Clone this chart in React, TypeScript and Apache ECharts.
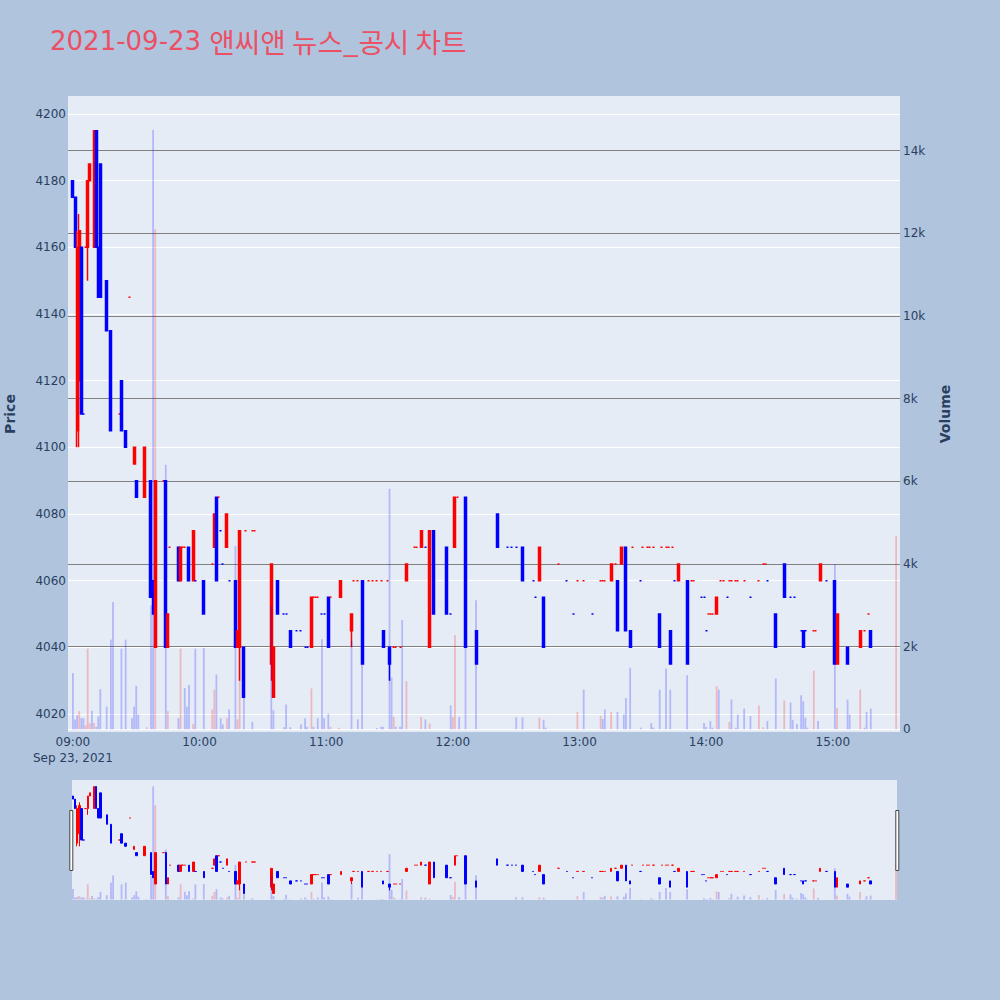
import React, { useEffect, useRef } from 'react';
import * as echarts from 'echarts';

const TITLE_DATE = '2021-09-23 ';
const TITLE_TEXT = '앤씨앤 뉴스_공시 차트';
const DATE_LABEL = 'Sep 23, 2021';
const PRICE_TITLE = 'Price';
const VOLUME_TITLE = 'Volume';

// minutes after 09:00 for time tick labels
const timeTicks = [0, 60, 120, 180, 240, 300, 360];
const priceTicks = [4020, 4040, 4060, 4080, 4100, 4120, 4140, 4160, 4180, 4200];
const volumeTicks = [0, 2000, 4000, 6000, 8000, 10000, 12000, 14000];

// [minute after 09:00, open, close, low, high, direction (1 up / -1 down)]
const candles: number[][] = [
  [0, 4180, 4175, 4175, 4180, -1],
  [1, 4175, 4160, 4160, 4175, -1],
  [2, 4105, 4160, 4100, 4165, 1],
  [3, 4120, 4165, 4100, 4170, 1],
  [4, 4160, 4110, 4110, 4160, -1],
  [5, 4110, 4110, 4110, 4110, -1],
  [6, 4160, 4160, 4160, 4160, 1],
  [7, 4160, 4180, 4150, 4180, 1],
  [8, 4180, 4185, 4180, 4185, 1],
  [10, 4160, 4195, 4160, 4195, 1],
  [11, 4195, 4160, 4160, 4195, -1],
  [12, 4160, 4145, 4145, 4160, -1],
  [13, 4185, 4145, 4145, 4185, -1],
  [16, 4150, 4135, 4135, 4150, -1],
  [18, 4135, 4105, 4105, 4135, -1],
  [22, 4110, 4110, 4110, 4110, 1],
  [23, 4120, 4105, 4105, 4120, -1],
  [25, 4105, 4100, 4100, 4105, -1],
  [27, 4145, 4145, 4145, 4145, 1],
  [29, 4095, 4100, 4095, 4100, 1],
  [30, 4090, 4085, 4085, 4090, -1],
  [34, 4085, 4100, 4085, 4100, 1],
  [37, 4090, 4055, 4055, 4090, -1],
  [38, 4060, 4050, 4050, 4060, -1],
  [39, 4040, 4090, 4040, 4090, 1],
  [43, 4090, 4090, 4090, 4090, 1],
  [44, 4090, 4040, 4040, 4090, -1],
  [45, 4040, 4050, 4040, 4050, 1],
  [46, 4070, 4070, 4070, 4070, 1],
  [50, 4070, 4060, 4060, 4070, -1],
  [51, 4060, 4070, 4060, 4070, 1],
  [52, 4070, 4070, 4070, 4070, 1],
  [53, 4070, 4070, 4070, 4070, 1],
  [55, 4070, 4060, 4060, 4070, -1],
  [57, 4060, 4075, 4060, 4075, 1],
  [58, 4060, 4060, 4060, 4060, -1],
  [62, 4060, 4050, 4050, 4060, -1],
  [66, 4065, 4065, 4065, 4065, 1],
  [67, 4070, 4080, 4070, 4080, 1],
  [68, 4085, 4060, 4060, 4085, -1],
  [69, 4085, 4085, 4085, 4085, 1],
  [70, 4075, 4075, 4075, 4075, -1],
  [71, 4065, 4065, 4065, 4065, -1],
  [73, 4070, 4080, 4070, 4080, 1],
  [74, 4060, 4060, 4060, 4060, -1],
  [77, 4060, 4040, 4040, 4060, -1],
  [78, 4040, 4045, 4040, 4045, 1],
  [79, 4040, 4075, 4030, 4075, 1],
  [81, 4040, 4025, 4025, 4040, -1],
  [82, 4075, 4075, 4075, 4075, 1],
  [85, 4075, 4075, 4075, 4075, 1],
  [86, 4075, 4075, 4075, 4075, 1],
  [94, 4035, 4065, 4030, 4065, 1],
  [95, 4025, 4040, 4025, 4040, 1],
  [97, 4060, 4050, 4050, 4060, -1],
  [100, 4050, 4050, 4050, 4050, -1],
  [101, 4050, 4050, 4050, 4050, -1],
  [103, 4045, 4040, 4040, 4045, -1],
  [106, 4045, 4045, 4045, 4045, -1],
  [108, 4045, 4045, 4045, 4045, -1],
  [110, 4040, 4040, 4040, 4040, -1],
  [111, 4040, 4040, 4040, 4040, -1],
  [113, 4040, 4055, 4040, 4055, 1],
  [114, 4055, 4055, 4055, 4055, 1],
  [115, 4055, 4055, 4055, 4055, 1],
  [116, 4055, 4055, 4055, 4055, 1],
  [118, 4050, 4050, 4050, 4050, -1],
  [119, 4050, 4050, 4050, 4050, -1],
  [121, 4055, 4040, 4040, 4055, -1],
  [122, 4055, 4055, 4055, 4055, 1],
  [127, 4055, 4060, 4055, 4060, 1],
  [132, 4045, 4050, 4040, 4050, 1],
  [133, 4060, 4060, 4060, 4060, 1],
  [135, 4060, 4060, 4060, 4060, 1],
  [137, 4060, 4035, 4035, 4060, -1],
  [140, 4060, 4060, 4060, 4060, 1],
  [142, 4060, 4060, 4060, 4060, 1],
  [144, 4060, 4060, 4060, 4060, 1],
  [146, 4060, 4060, 4060, 4060, 1],
  [147, 4045, 4040, 4040, 4045, -1],
  [149, 4060, 4060, 4060, 4060, 1],
  [150, 4040, 4035, 4030, 4040, -1],
  [152, 4040, 4040, 4040, 4040, 1],
  [153, 4040, 4040, 4040, 4040, 1],
  [155, 4040, 4040, 4040, 4040, 1],
  [158, 4060, 4065, 4060, 4065, 1],
  [162, 4070, 4070, 4070, 4070, 1],
  [163, 4070, 4070, 4070, 4070, 1],
  [165, 4070, 4075, 4070, 4075, 1],
  [167, 4070, 4070, 4070, 4070, -1],
  [169, 4040, 4075, 4040, 4075, 1],
  [171, 4075, 4050, 4050, 4075, -1],
  [177, 4070, 4050, 4050, 4070, -1],
  [179, 4050, 4050, 4050, 4050, -1],
  [181, 4070, 4085, 4070, 4085, 1],
  [182, 4085, 4085, 4085, 4085, 1],
  [186, 4085, 4040, 4040, 4085, -1],
  [191, 4045, 4035, 4035, 4045, -1],
  [201, 4080, 4070, 4070, 4080, -1],
  [206, 4070, 4070, 4070, 4070, -1],
  [208, 4070, 4070, 4070, 4070, -1],
  [210, 4070, 4070, 4070, 4070, -1],
  [213, 4070, 4060, 4060, 4070, -1],
  [218, 4060, 4060, 4060, 4060, -1],
  [219, 4055, 4055, 4055, 4055, -1],
  [221, 4060, 4070, 4060, 4070, 1],
  [223, 4055, 4040, 4040, 4055, -1],
  [230, 4065, 4065, 4065, 4065, 1],
  [234, 4060, 4060, 4060, 4060, -1],
  [237, 4050, 4050, 4050, 4050, -1],
  [239, 4060, 4060, 4060, 4060, 1],
  [242, 4060, 4060, 4060, 4060, 1],
  [246, 4050, 4050, 4050, 4050, -1],
  [250, 4060, 4060, 4060, 4060, 1],
  [251, 4060, 4060, 4060, 4060, 1],
  [252, 4060, 4060, 4060, 4060, 1],
  [255, 4060, 4065, 4060, 4065, 1],
  [257, 4065, 4065, 4065, 4065, 1],
  [258, 4060, 4045, 4045, 4060, -1],
  [260, 4065, 4070, 4065, 4070, 1],
  [262, 4070, 4045, 4045, 4070, -1],
  [264, 4045, 4040, 4040, 4045, -1],
  [265, 4070, 4070, 4070, 4070, 1],
  [269, 4060, 4060, 4060, 4060, -1],
  [270, 4070, 4070, 4070, 4070, 1],
  [272, 4070, 4070, 4070, 4070, 1],
  [273, 4070, 4070, 4070, 4070, 1],
  [275, 4070, 4070, 4070, 4070, 1],
  [278, 4050, 4040, 4040, 4050, -1],
  [279, 4070, 4070, 4070, 4070, 1],
  [281, 4070, 4070, 4070, 4070, 1],
  [282, 4070, 4070, 4070, 4070, 1],
  [283, 4045, 4035, 4035, 4045, -1],
  [284, 4070, 4070, 4070, 4070, 1],
  [285, 4060, 4060, 4060, 4060, -1],
  [287, 4060, 4065, 4060, 4065, 1],
  [291, 4060, 4035, 4035, 4060, -1],
  [293, 4060, 4060, 4060, 4060, 1],
  [294, 4060, 4060, 4060, 4060, 1],
  [298, 4055, 4055, 4055, 4055, -1],
  [299, 4055, 4055, 4055, 4055, -1],
  [300, 4045, 4045, 4045, 4045, -1],
  [301, 4050, 4050, 4050, 4050, 1],
  [302, 4050, 4050, 4050, 4050, 1],
  [303, 4050, 4050, 4050, 4050, 1],
  [305, 4050, 4055, 4050, 4055, 1],
  [307, 4060, 4060, 4060, 4060, 1],
  [308, 4060, 4060, 4060, 4060, 1],
  [310, 4055, 4055, 4055, 4055, -1],
  [311, 4060, 4060, 4060, 4060, 1],
  [312, 4060, 4060, 4060, 4060, 1],
  [314, 4060, 4060, 4060, 4060, 1],
  [315, 4060, 4060, 4060, 4060, 1],
  [318, 4060, 4060, 4060, 4060, 1],
  [321, 4055, 4055, 4055, 4055, -1],
  [325, 4060, 4060, 4060, 4060, 1],
  [327, 4065, 4065, 4065, 4065, 1],
  [328, 4065, 4065, 4065, 4065, 1],
  [329, 4060, 4060, 4060, 4060, -1],
  [333, 4050, 4040, 4040, 4050, -1],
  [337, 4065, 4055, 4055, 4065, -1],
  [340, 4055, 4055, 4055, 4055, -1],
  [342, 4055, 4055, 4055, 4055, -1],
  [345, 4045, 4045, 4045, 4045, -1],
  [346, 4045, 4040, 4040, 4045, -1],
  [347, 4045, 4045, 4045, 4045, -1],
  [351, 4045, 4045, 4045, 4045, 1],
  [352, 4045, 4045, 4045, 4045, 1],
  [354, 4060, 4065, 4060, 4065, 1],
  [357, 4060, 4060, 4060, 4060, -1],
  [361, 4060, 4035, 4035, 4060, -1],
  [362, 4035, 4050, 4035, 4050, 1],
  [367, 4040, 4035, 4035, 4040, -1],
  [373, 4040, 4045, 4040, 4045, 1],
  [375, 4045, 4045, 4045, 4045, 1],
  [377, 4050, 4050, 4050, 4050, 1],
  [378, 4045, 4040, 4040, 4045, -1],
];

// [minute after 09:00, volume, direction (1 up / -1 down)]
const volumes: number[][] = [
  [0, 1360, -1], [1, 240, -1], [2, 340, -1], [3, 440, 1], [4, 270, -1], [5, 270, -1],
  [6, 100, 1], [7, 1950, 1], [8, 150, 1], [9, 450, -1], [10, 150, 1], [11, 60, -1],
  [12, 310, -1], [13, 970, -1], [16, 550, -1], [18, 2170, -1], [19, 3080, -1],
  [23, 1950, -1], [25, 2170, -1], [28, 270, -1], [29, 550, -1], [30, 1050, -1],
  [31, 360, -1], [35, 50, 1], [37, 3000, -1], [38, 14500, -1], [39, 12100, 1],
  [44, 6400, -1], [45, 440, 1], [50, 270, -1], [51, 1950, 1], [53, 1000, -1],
  [54, 550, -1], [55, 1070, -1], [57, 130, 1], [58, 1950, -1], [62, 1970, -1],
  [66, 480, 1], [67, 960, 1], [68, 1330, -1], [70, 270, -1], [71, 120, -1],
  [73, 270, 1], [74, 480, -1], [77, 4440, -1], [78, 240, 1], [79, 3030, 1],
  [81, 1970, -1], [85, 180, -1], [94, 2990, -1], [95, 460, -1], [100, 50, -1],
  [101, 600, -1], [103, 50, -1], [108, 120, -1], [110, 270, -1], [111, 60, -1],
  [113, 990, 1], [114, 60, -1], [116, 270, -1], [118, 2180, -1], [119, 270, -1],
  [121, 380, -1], [122, 60, 1], [126, 40, 1], [132, 2140, -1], [135, 240, -1],
  [137, 1990, -1], [144, 30, -1], [146, 60, -1], [147, 60, -1], [150, 5820, -1],
  [151, 1250, -1], [152, 300, 1], [153, 60, -1], [155, 60, -1], [156, 2640, -1],
  [158, 1165, 1], [165, 300, 1], [167, 240, -1], [169, 140, 1], [179, 575, -1],
  [180, 300, 1], [181, 2280, 1], [183, 300, -1], [186, 1990, -1], [191, 3120, -1],
  [210, 290, -1], [213, 290, -1], [221, 280, 1], [223, 230, -1], [224, 40, -1],
  [239, 420, 1], [242, 960, -1], [250, 320, 1], [251, 250, -1], [252, 480, -1],
  [255, 420, 1], [258, 420, -1], [261, 360, -1], [262, 760, -1], [264, 1490, -1],
  [269, 40, -1], [274, 150, -1], [275, 40, -1], [278, 960, -1], [281, 1470, -1],
  [283, 960, -1], [291, 1310, -1], [299, 150, -1], [300, 60, -1], [302, 200, -1],
  [303, 40, -1], [305, 1040, 1], [306, 960, -1], [311, 180, 1], [312, 720, -1],
  [314, 40, -1], [315, 360, -1], [318, 500, -1], [321, 320, -1], [325, 575, 1],
  [327, 50, 1], [329, 200, -1], [333, 1230, -1], [337, 700, 1], [340, 650, -1],
  [341, 230, -1], [343, 120, -1], [345, 825, -1], [346, 680, -1], [347, 280, -1],
  [348, 40, -1], [351, 1420, 1], [353, 200, -1], [361, 4000, -1], [362, 520, 1],
  [367, 720, -1], [368, 360, -1], [373, 960, 1], [375, 40, -1], [376, 420, -1],
  [378, 500, -1], [390, 4680, 1],
];

const UP = '#ff0000';
const DOWN = '#0000ff';
const UP_VOL = 'rgba(255,0,0,0.22)';
const DOWN_VOL = 'rgba(0,0,255,0.22)';
const AXIS_COLOR = '#2a3f5f';
const TITLE_COLOR = '#eb5064';
const FONT = '"DejaVu Sans", Verdana, sans-serif';
const KR_FONT = '"Noto Sans CJK KR", "DejaVu Sans", sans-serif';

const pad = (n: number) => (n < 10 ? '0' + n : '' + n);

export default function App() {
  const ref = useRef<HTMLDivElement>(null);
  useEffect(() => {
    if (!ref.current) return;
    const chart = echarts.init(ref.current, undefined, { renderer: 'svg' });

    const candleData = candles.map(([m, o, c, l, h, d]) => {
      const col = d > 0 ? UP : DOWN;
      return {
        value: [m, o, c, l, h],
        itemStyle: { color: col, color0: col, borderColor: col, borderColor0: col },
      };
    });
    const volData = volumes.map(([m, v, d]) => ({
      value: [m, v],
      itemStyle: { color: d > 0 ? UP_VOL : DOWN_VOL },
    }));

    const timeFmt = (v: number) => {
      const h = 9 + Math.floor(v / 60);
      const mm = Math.round(v % 60);
      const s = pad(h) + ':' + pad(mm);
      return v === 0 ? s + '\n' + DATE_LABEL : s;
    };

    const option: any = {
      animation: false,
      backgroundColor: '#b0c4de',
      textStyle: { fontFamily: FONT },
      grid: [
        { left: 68, top: 96, width: 832, height: 636, show: true, backgroundColor: '#e5ecf6', borderWidth: 0 },
        { left: 72, top: 780, width: 825, height: 120, show: true, backgroundColor: '#e5ecf6', borderWidth: 0 },
      ],
      xAxis: [
        {
          type: 'value', gridIndex: 0, min: -2.32, max: 391.84,
          axisLine: { show: false },
          axisTick: { show: false, customValues: timeTicks },
          splitLine: { show: false },
          axisLabel: {
            customValues: timeTicks, formatter: timeFmt, color: AXIS_COLOR,
            fontSize: 12, fontFamily: FONT, margin: 2, lineHeight: 16,
          },
        },
        { type: 'value', gridIndex: 1, min: -0.47, max: 390.47, show: false, splitLine: { show: false } },
      ],
      yAxis: [
        {
          type: 'value', gridIndex: 0, min: 4014.6, max: 4205.4, position: 'left',
          axisLine: { show: false },
          axisTick: { show: false, customValues: priceTicks },
          axisLabel: {
            customValues: priceTicks, color: AXIS_COLOR, fontSize: 12, fontFamily: FONT, margin: 2,
            formatter: (v: number) => String(v),
          },
          splitLine: { show: true, lineStyle: { color: '#ffffff', width: 1 } },
        },
        {
          type: 'value', gridIndex: 0, min: -65, max: 15322, position: 'right',
          axisLine: { show: false },
          axisTick: { show: false, customValues: volumeTicks },
          axisLabel: {
            customValues: volumeTicks, color: AXIS_COLOR, fontSize: 12, fontFamily: FONT, margin: 3,
            formatter: (v: number) => (v === 0 ? '0' : v / 1000 + 'k'),
          },
          splitLine: {
            show: true,
            lineStyle: { color: ['#ffffff', '#808080', '#808080', '#808080', '#808080', '#808080', '#808080', '#808080'], width: 1 },
          },
        },
        { type: 'value', gridIndex: 1, min: 4014.6, max: 4205.4, show: false, splitLine: { show: false } },
        { type: 'value', gridIndex: 1, min: -65, max: 15322, show: false, splitLine: { show: false } },
      ],
      series: [
        {
          type: 'candlestick', xAxisIndex: 0, yAxisIndex: 0, data: candleData,
          barWidth: 2.5, itemStyle: { borderWidth: 1.5 }, z: 2,
        },
        {
          type: 'bar', xAxisIndex: 0, yAxisIndex: 1, data: volData, barWidth: 1.8, z: 3,
        },
        {
          type: 'candlestick', xAxisIndex: 1, yAxisIndex: 2, data: candleData,
          barWidth: 2, itemStyle: { borderWidth: 1 }, z: 2,
        },
        {
          type: 'bar', xAxisIndex: 1, yAxisIndex: 3, data: volData, barWidth: 1.8, z: 3,
        },
      ],
      graphic: [
        {
          type: 'text', x: 50, y: 40.5, z: 100,
          style: {
            text: '{d|' + TITLE_DATE + '}{k|' + TITLE_TEXT + '}',
            align: 'left', verticalAlign: 'middle',
            rich: {
              d: { fill: TITLE_COLOR, fontSize: 26, fontFamily: FONT },
              k: { fill: TITLE_COLOR, fontSize: 27.7, fontFamily: KR_FONT },
            },
          },
        },
        {
          type: 'text', x: 9.5, y: 414, rotation: Math.PI / 2, z: 100,
          style: { text: PRICE_TITLE, fill: AXIS_COLOR, font: `bold 14px ${FONT}`, align: 'center', verticalAlign: 'middle' },
        },
        {
          type: 'text', x: 945, y: 414, rotation: Math.PI / 2, z: 100,
          style: { text: VOLUME_TITLE, fill: AXIS_COLOR, font: `bold 14px ${FONT}`, align: 'center', verticalAlign: 'middle' },
        },
        {
          type: 'rect', z: 100, shape: { x: 69.8, y: 810.5, width: 3, height: 60 },
          style: { fill: '#ffffff', stroke: '#444444', lineWidth: 1 },
        },
        {
          type: 'rect', z: 100, shape: { x: 895.8, y: 810.5, width: 3, height: 60 },
          style: { fill: '#ffffff', stroke: '#444444', lineWidth: 1 },
        },
      ],
    };
    chart.setOption(option);
    return () => chart.dispose();
  }, []);
  return <div ref={ref} style={{ position: 'fixed', left: 0, top: 0, width: 1000, height: 1000 }} />;
}
